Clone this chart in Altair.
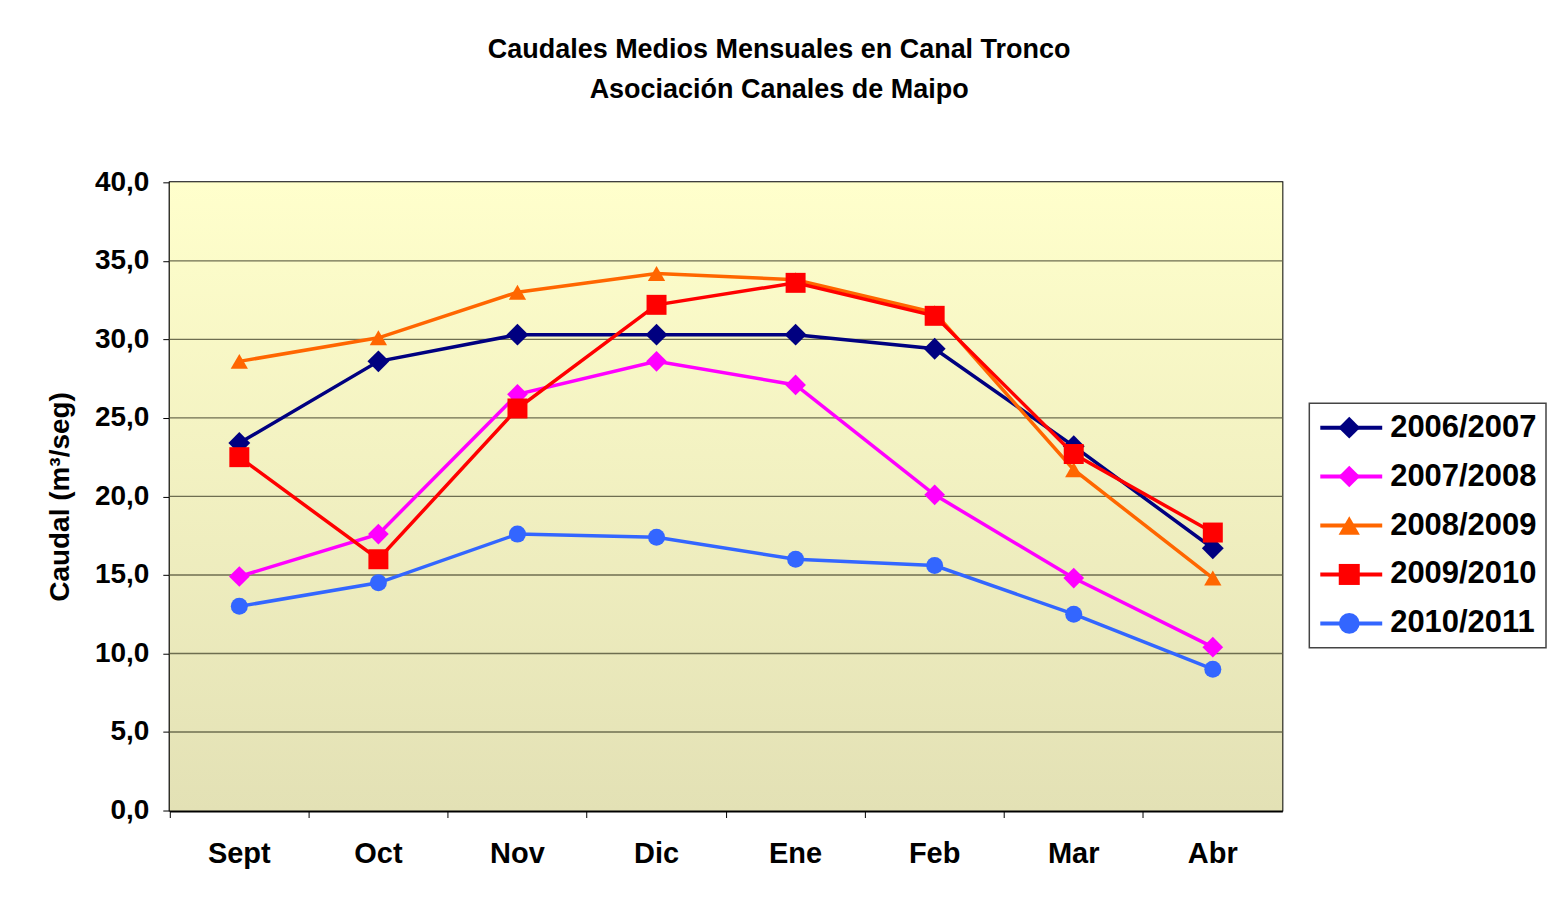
import altair as alt
import pandas as pd

FONT = "Liberation Sans"

months = ["Sept", "Oct", "Nov", "Dic", "Ene", "Feb", "Mar", "Abr"]
series = ["2006/2007", "2007/2008", "2008/2009", "2009/2010", "2010/2011"]
s_2006_2007 = [23.4, 28.6, 30.3, 30.3, 30.3, 29.4, 23.2, 16.7]
s_2007_2008 = [14.9, 17.6, 26.5, 28.6, 27.1, 20.1, 14.8, 10.4]
s_2008_2009 = [28.6, 30.1, 33.0, 34.2, 33.8, 31.7, 21.7, 14.8]
s_2009_2010 = [22.5, 16.0, 25.6, 32.2, 33.6, 31.5, 22.7, 17.7]
s_2010_2011 = [13.0, 14.5, 17.6, 17.4, 16.0, 15.6, 12.5, 9.0]
y_ticks = [0, 5, 10, 15, 20, 25, 30, 35, 40]

values = [s_2006_2007, s_2007_2008, s_2008_2009, s_2009_2010, s_2010_2011]
colors = ["#000080", "#FF00FF", "#FF6600", "#FF0000", "#3366FF"]
shapes = ["diamond", "diamond", "triangle-up", "square", "circle"]
sizes = [480, 430, 300, 400, 290]

rows = []
for s, vals in zip(series, values):
    for m, v in zip(months, vals):
        rows.append({"serie": s, "mes": m, "valor": v})
df = pd.DataFrame(rows)

W, H = 1114, 629

x_enc = alt.X(
    "mes:N", sort=months,
    scale=alt.Scale(type="band", paddingInner=0, paddingOuter=0),
    axis=alt.Axis(
        title=None, bandPosition=0, labelAngle=0,
        labelFont=FONT, labelFontSize=29, labelFontWeight="bold", labelColor="black",
        labelPadding=22, tickSize=7, tickColor="black", tickWidth=1,
        domainColor="black", domainWidth=3, grid=False,
    ),
)
y_enc = alt.Y(
    "valor:Q",
    scale=alt.Scale(domain=[0, 40], nice=False),
    axis=alt.Axis(
        values=y_ticks, title="Caudal (m³/seg)",
        labelExpr="replace(format(datum.value, '.1f'), '.', ',')",
        labelFont=FONT, labelFontSize=28, labelFontWeight="bold", labelColor="black",
        labelPadding=14, tickSize=7, tickColor="black", tickWidth=1,
        domainColor="black", domainWidth=3, grid=False,
        titleFont=FONT, titleFontSize=28, titleFontWeight="bold", titleColor="black",
        titlePadding=20,
    ),
)

bg = alt.Chart(pd.DataFrame({"a": [0]})).mark_rect(
    color=alt.LinearGradient(
        gradient="linear", x1=0, x2=0, y1=0, y2=1,
        stops=[alt.GradientStop(color="#FFFFCC", offset=0),
               alt.GradientStop(color="#E3E1B5", offset=1)],
    )
).encode(x=alt.value(0), x2=alt.value("width"), y=alt.value(0), y2=alt.value("height"))

grid = alt.Chart(pd.DataFrame({"valor": y_ticks[1:-1]})).mark_rule(
    color="#6E6E50", strokeWidth=1.4
).encode(y=y_enc)

layers = [bg, grid]
for s, c, sh, sz in zip(series, colors, shapes, sizes):
    base = alt.Chart(df).transform_filter(alt.datum.serie == s)
    layers.append(base.mark_line(color=c, strokeWidth=3.5).encode(x=x_enc, y=y_enc))
    layers.append(base.mark_point(color=c, shape=sh, size=sz, filled=True, opacity=1)
                  .encode(x=x_enc, y=y_enc))

main = alt.layer(*layers).properties(
    width=W, height=H,
    view=alt.ViewBackground(stroke="black", strokeWidth=2),
)

# legend panel
leg_df = pd.DataFrame({"serie": series})
ly = alt.Y("serie:N", sort=series, scale=alt.Scale(type="point", padding=0.5), axis=None)
lcolor = alt.Color("serie:N", scale=alt.Scale(domain=series, range=colors), legend=None)
lshape = alt.Shape("serie:N", scale=alt.Scale(domain=series, range=shapes), legend=None)
lsize = alt.Size("serie:N", scale=alt.Scale(domain=series, range=sizes), legend=None)
leg_base = alt.Chart(leg_df)
leg = alt.layer(
    leg_base.mark_rule(strokeWidth=4).encode(
        x=alt.value(11), x2=alt.value(73), y=ly, color=lcolor),
    leg_base.mark_point(filled=True, opacity=1).encode(
        x=alt.value(40), y=ly, color=lcolor, shape=lshape, size=lsize),
    leg_base.mark_text(align="left", baseline="middle", font=FONT, fontSize=31,
                       fontWeight="bold", color="black", dx=0).encode(
        x=alt.value(81), y=ly, text="serie:N"),
).properties(
    width=237, height=245,
    view=alt.ViewBackground(stroke="#444444", strokeWidth=1.5, fill="white"),
)

chart = alt.hconcat(main, leg, spacing=24, center=True).properties(
    title=alt.Title(
        ["Caudales Medios Mensuales en Canal Tronco", "Asociación Canales de Maipo"],
        font=FONT, fontSize=27, fontWeight="bold", color="black",
        lineHeight=40, offset=63, anchor="middle", dx=-17,
    ),
    padding={"left": 37, "top": 28, "right": 0, "bottom": 0},
    background="white",
).configure_concat(spacing=24)

chart.save("out.html", embed_options={"renderer": "svg", "actions": False})
